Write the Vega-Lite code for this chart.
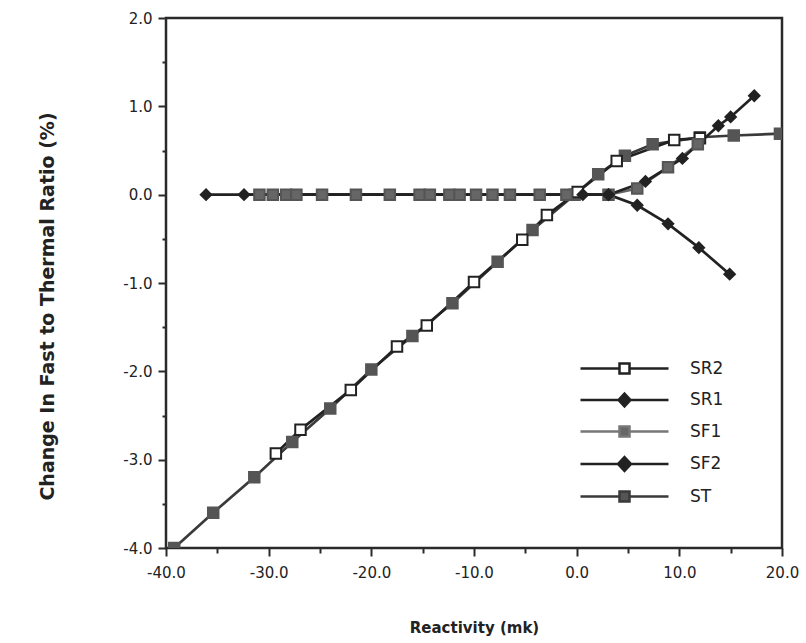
{
  "$schema": "https://vega.github.io/schema/vega-lite/v6.json",
  "width": 616,
  "height": 530,
  "autosize": {"type": "none"},
  "padding": {"left": 166, "top": 18, "right": 24, "bottom": 95},
  "background": "white",
  "config": {
    "view": {"stroke": "#2a2a2a", "strokeWidth": 2.5},
    "font": "DejaVu Sans",
    "legend": {"symbolOpacity": 1}
  },
  "data": {
    "values": [
      {"series": "ST", "x": -39.2, "y": -4.0},
      {"series": "ST", "x": -35.4, "y": -3.6},
      {"series": "ST", "x": -31.4, "y": -3.2},
      {"series": "ST", "x": -27.7, "y": -2.8},
      {"series": "ST", "x": -24.0, "y": -2.42},
      {"series": "ST", "x": -20.0, "y": -1.98},
      {"series": "ST", "x": -16.0, "y": -1.6},
      {"series": "ST", "x": -12.1, "y": -1.23},
      {"series": "ST", "x": -7.7, "y": -0.76},
      {"series": "ST", "x": -4.3, "y": -0.4},
      {"series": "ST", "x": -0.2, "y": 0.0},
      {"series": "ST", "x": 2.1, "y": 0.23},
      {"series": "ST", "x": 4.7, "y": 0.44},
      {"series": "ST", "x": 7.4, "y": 0.57},
      {"series": "ST", "x": 12.0, "y": 0.65},
      {"series": "ST", "x": 15.3, "y": 0.67},
      {"series": "ST", "x": 19.8, "y": 0.69},
      {"series": "SR2", "x": -29.3, "y": -2.93},
      {"series": "SR2", "x": -26.9, "y": -2.66},
      {"series": "SR2", "x": -22.0, "y": -2.21},
      {"series": "SR2", "x": -17.5, "y": -1.72},
      {"series": "SR2", "x": -14.6, "y": -1.48},
      {"series": "SR2", "x": -10.0, "y": -0.99},
      {"series": "SR2", "x": -5.3, "y": -0.51},
      {"series": "SR2", "x": -2.9, "y": -0.23},
      {"series": "SR2", "x": 0.1, "y": 0.03},
      {"series": "SR2", "x": 3.9, "y": 0.38},
      {"series": "SR2", "x": 9.5, "y": 0.62},
      {"series": "SR2", "x": 12.0, "y": 0.64},
      {"series": "SF1", "x": -30.9, "y": 0.0},
      {"series": "SF1", "x": -29.6, "y": 0.0},
      {"series": "SF1", "x": -28.3, "y": 0.0},
      {"series": "SF1", "x": -27.3, "y": 0.0},
      {"series": "SF1", "x": -24.8, "y": 0.0},
      {"series": "SF1", "x": -21.5, "y": 0.0},
      {"series": "SF1", "x": -18.2, "y": 0.0},
      {"series": "SF1", "x": -15.3, "y": 0.0},
      {"series": "SF1", "x": -14.3, "y": 0.0},
      {"series": "SF1", "x": -12.4, "y": 0.0},
      {"series": "SF1", "x": -11.4, "y": 0.0},
      {"series": "SF1", "x": -9.8, "y": 0.0},
      {"series": "SF1", "x": -8.2, "y": 0.0},
      {"series": "SF1", "x": -6.5, "y": 0.0},
      {"series": "SF1", "x": -3.6, "y": 0.0},
      {"series": "SF1", "x": -1.0, "y": 0.0},
      {"series": "SF1", "x": 3.1, "y": 0.0},
      {"series": "SF1", "x": 5.9, "y": 0.07},
      {"series": "SF1", "x": 8.9, "y": 0.31},
      {"series": "SF1", "x": 11.8, "y": 0.57},
      {"series": "SR1", "x": -36.1, "y": 0.0},
      {"series": "SR1", "x": 0.6, "y": 0.0},
      {"series": "SR1", "x": 3.1, "y": 0.0},
      {"series": "SR1", "x": 5.9, "y": -0.12},
      {"series": "SR1", "x": 8.9, "y": -0.33},
      {"series": "SR1", "x": 11.9, "y": -0.6},
      {"series": "SR1", "x": 14.9, "y": -0.9},
      {"series": "SF2", "x": -32.4, "y": 0.0},
      {"series": "SF2", "x": 3.1, "y": 0.0},
      {"series": "SF2", "x": 6.7, "y": 0.15},
      {"series": "SF2", "x": 10.3, "y": 0.41},
      {"series": "SF2", "x": 13.8, "y": 0.78},
      {"series": "SF2", "x": 15.0, "y": 0.88},
      {"series": "SF2", "x": 17.3, "y": 1.12}
    ]
  },
  "layer": [
    {
      "mark": {"type": "line", "strokeWidth": 2.7, "clip": true},
      "encoding": {
        "x": {
          "field": "x", "type": "quantitative",
          "scale": {"domain": [-40, 20], "nice": false, "zero": false},
          "axis": {
            "values": [-40, -35, -30, -25, -20, -15, -10, -5, 0, 5, 10, 15, 20],
            "labelExpr": "datum.value % 10 === 0 ? replace(format(datum.value, '.1f'), '\u2212', '-') : ''",
            "domain": false,
            "grid": false,
            "tickColor": "#2a2a2a",
            "tickWidth": 2,
            "tickSize": {"condition": {"test": "datum.value % 10 === 0", "value": 8}, "value": 5},
            "labelPadding": 9,
            "labelFontSize": 15,
            "labelColor": "#222",
            "labelFlush": false,
            "title": "Reactivity (mk)",
            "titleFontSize": 15,
            "titleFontWeight": "bold",
            "titleColor": "#222",
            "titlePadding": 40
          }
        },
        "y": {
          "field": "y", "type": "quantitative",
          "scale": {"domain": [-4, 2], "nice": false, "zero": false},
          "axis": {
            "values": [-4, -3.5, -3, -2.5, -2, -1.5, -1, -0.5, 0, 0.5, 1, 1.5, 2],
            "labelExpr": "datum.value % 1 === 0 ? replace(format(datum.value, '.1f'), '\u2212', '-') : ''",
            "domain": false,
            "grid": false,
            "tickColor": "#2a2a2a",
            "tickWidth": 2,
            "tickSize": {"condition": {"test": "datum.value % 1 === 0", "value": 8}, "value": 4},
            "labelPadding": 6,
            "labelFontSize": 15,
            "labelColor": "#222",
            "labelFlush": false,
            "title": "Change In Fast to Thermal Ratio (%)",
            "titleFontSize": 19,
            "titleFontWeight": "bold",
            "titleColor": "#222",
            "titlePadding": 65,
            "titleY": 288
          }
        },
        "color": {
          "field": "series", "type": "nominal",
          "scale": {"domain": ["SR2", "SR1", "SF1", "SF2", "ST"], "range": ["#222222", "#222222", "#666666", "#222222", "#3a3a3a"]},
          "legend": null
        },
        "order": {"field": "x", "type": "quantitative"}
      }
    },
    {
      "mark": {"type": "point", "filled": false, "opacity": 1, "strokeWidth": 2, "size": 110, "clip": true},
      "encoding": {
        "x": {"field": "x", "type": "quantitative"},
        "y": {"field": "y", "type": "quantitative"},
        "shape": {
          "field": "series", "type": "nominal",
          "scale": {"domain": ["SR2", "SR1", "SF1", "SF2", "ST"], "range": ["square", "diamond", "square", "diamond", "square"]},
          "legend": null
        },
        "fill": {
          "field": "series", "type": "nominal",
          "scale": {"domain": ["SR2", "SR1", "SF1", "SF2", "ST"], "range": ["#ffffff", "#222222", "#666666", "#222222", "#555555"]},
          "legend": null
        },
        "stroke": {
          "field": "series", "type": "nominal",
          "scale": {"domain": ["SR2", "SR1", "SF1", "SF2", "ST"], "range": ["#222222", "#222222", "#555555", "#222222", "#555555"]},
          "legend": null
        }
      }
    },
    {
      "mark": {"type": "point", "filled": false, "opacity": 0, "strokeWidth": 2.5},
      "encoding": {
        "shape": {
          "field": "series", "type": "nominal",
          "scale": {"domain": ["SR2", "SR1", "SF1", "SF2", "ST"], "range": [
            "M-8.8,0H-1M1,0H8.8M-1,-1H1V1H-1Z",
            "M-8.8,0H8.8M0,-1.3L1.2,0L0,1.3L-1.2,0Z",
            "M-8.8,0H-1M1,0H8.8M-1,-1H1V1H-1Z",
            "M-8.8,0H8.8M0,-1.4L1.3,0L0,1.4L-1.3,0Z",
            "M-8.8,0H-1M1,0H8.8M-1,-1H1V1H-1Z"
          ]},
          "legend": {
            "title": null, "orient": "none", "legendX": 450, "legendY": 342,
            "symbolSize": 100, "symbolStrokeWidth": 2.5, "labelOffset": 57,
            "labelFontSize": 17, "labelColor": "#222", "rowPadding": 9.5
          }
        },
        "fill": {
          "field": "series", "type": "nominal",
          "scale": {"domain": ["SR2", "SR1", "SF1", "SF2", "ST"], "range": ["#ffffff", "#222222", "#666666", "#222222", "#555555"]},
          "legend": {
            "title": null, "orient": "none", "legendX": 450, "legendY": 342,
            "symbolSize": 100, "symbolStrokeWidth": 2.5, "labelOffset": 57,
            "labelFontSize": 17, "labelColor": "#222", "rowPadding": 9.5
          }
        },
        "stroke": {
          "field": "series", "type": "nominal",
          "scale": {"domain": ["SR2", "SR1", "SF1", "SF2", "ST"], "range": ["#222222", "#222222", "#777777", "#222222", "#3a3a3a"]},
          "legend": {
            "title": null, "orient": "none", "legendX": 450, "legendY": 342,
            "symbolSize": 100, "symbolStrokeWidth": 2.5, "labelOffset": 57,
            "labelFontSize": 17, "labelColor": "#222", "rowPadding": 9.5
          }
        }
      }
    }
  ],
  "resolve": {"scale": {"shape": "independent", "fill": "independent", "stroke": "independent"}}
}
